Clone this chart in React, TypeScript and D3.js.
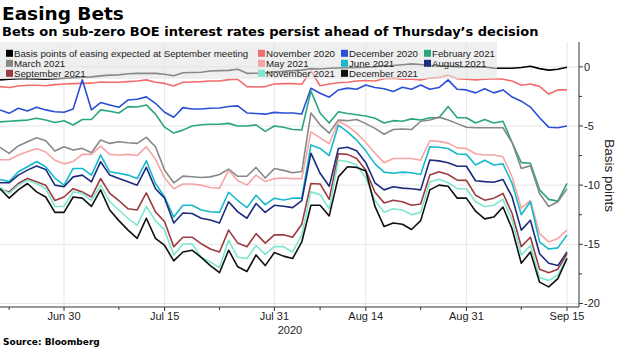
import React from "react";
import * as d3 from "d3";

// Business days shown on the x axis
const dates: string[] = [
  "2020-06-19", "2020-06-22", "2020-06-23", "2020-06-24", "2020-06-25", "2020-06-26", "2020-06-29", "2020-06-30",
  "2020-07-01", "2020-07-02", "2020-07-03", "2020-07-06", "2020-07-07", "2020-07-08", "2020-07-09", "2020-07-10",
  "2020-07-13", "2020-07-14", "2020-07-15", "2020-07-16", "2020-07-17", "2020-07-20", "2020-07-21", "2020-07-22",
  "2020-07-23", "2020-07-24", "2020-07-27", "2020-07-28", "2020-07-29", "2020-07-30", "2020-07-31",
  "2020-08-03", "2020-08-04", "2020-08-05", "2020-08-06", "2020-08-07", "2020-08-10", "2020-08-11", "2020-08-12",
  "2020-08-13", "2020-08-14", "2020-08-17", "2020-08-18", "2020-08-19", "2020-08-20", "2020-08-21", "2020-08-24",
  "2020-08-25", "2020-08-26", "2020-08-27", "2020-08-28", "2020-08-31",
  "2020-09-01", "2020-09-02", "2020-09-03", "2020-09-04", "2020-09-07", "2020-09-08", "2020-09-09", "2020-09-10",
  "2020-09-11", "2020-09-14", "2020-09-15",
];

const majorTicks = ["2020-06-30", "2020-07-15", "2020-07-31", "2020-08-14", "2020-08-31", "2020-09-15"];
const majorTickLabels = ["Jun 30", "Jul 15", "Jul 31", "Aug 14", "Aug 31", "Sep 15"];
const minorTicks = ["2020-06-22", "2020-07-08", "2020-07-23", "2020-08-07", "2020-08-24", "2020-09-08"];
const yMajorTicks = [0, -5, -10, -15, -20];
const yMinorTicks = [-2.5, -7.5, -12.5, -17.5];

const seriesNames = [
  "Basis points of easing expected at September meeting",
  "November 2020", "December 2020", "February 2021",
  "March 2021", "May 2021", "June 2021", "August 2021",
  "September 2021", "November 2021", "December 2021",
];

const sepMeeting = [-1.10,-1.05,-1.00,-1.00,-1.02,-1.05,-1.00,-0.96,-0.92,-0.88,-0.85,-0.76,-0.70,-0.68,-0.58,-0.55,-0.54,-0.55,-0.62,-0.76,-0.50,-0.48,-0.46,-0.35,-0.32,-0.30,-0.20,-0.55,-0.54,-0.52,-0.42,-0.38,-0.32,-0.28,-0.15,-0.18,-0.12,-0.10,-0.08,-0.05,-0.03,0.02,0.08,0.12,0.18,0.25,0.20,0.12,0.08,0.05,0.02,0.00,0.00,-0.02,-0.11,-0.12,-0.12,-0.05,0.05,-0.15,-0.28,-0.20,-0.03];
const nov2020 = [-1.67,-1.75,-1.62,-1.55,-1.55,-1.6,-1.5,-1.45,-1.42,-1.4,-1.38,-1.28,-1.3,-1.3,-1.25,-1.2,-1.1,-1.3,-1.4,-1.62,-1.3,-1.28,-1.25,-1.2,-1.2,-1.08,-1.05,-1.67,-1.7,-1.67,-1.45,-1.42,-1.42,-1.47,-0.35,-1.6,-1.45,-1.35,-1.3,-1.2,-1.15,-1.2,-1.0,-0.95,-1.05,-1.05,-1.1,-0.95,-0.9,-0.7,-1.0,-1.05,-1.1,-1.05,-1.0,-1.05,-1.2,-1.55,-1.45,-1.65,-2.3,-1.95,-1.95];
const dec2020 = [-3.64,-3.93,-3.50,-3.73,-3.42,-3.64,-3.79,-3.84,-3.56,-1.10,-3.64,-3.02,-3.22,-3.42,-2.80,-2.74,-2.54,-3.08,-3.84,-4.26,-3.45,-3.56,-3.56,-3.5,-3.48,-3.35,-3.3,-3.9,-3.95,-4.0,-3.85,-3.9,-3.9,-3.98,-1.81,-2.23,-2.57,-1.95,-1.8,-1.9,-1.53,-1.75,-1.85,-2.09,-1.72,-1.9,-1.53,-1.9,-1.75,-1.1,-1.9,-1.95,-2.2,-1.85,-2.2,-1.95,-2.55,-2.9,-3.4,-4.3,-5.1,-5.15,-5.0];
const feb2021 = [-4.65,-4.6,-4.55,-4.5,-4.35,-4.5,-4.7,-4.55,-4.92,-4.45,-4.45,-3.64,-3.75,-3.9,-3.36,-3.4,-3.22,-4.0,-5.1,-5.6,-5.35,-5.0,-4.9,-4.85,-4.85,-4.78,-5.0,-5.0,-4.9,-5.45,-5.0,-5.1,-5.3,-5.34,-2.05,-3.9,-4.75,-3.8,-3.95,-4.05,-4.15,-4.35,-4.75,-4.55,-4.6,-4.4,-4.5,-4.3,-4.3,-3.36,-4.3,-4.3,-4.75,-4.45,-4.75,-4.6,-6.4,-8.1,-8.15,-10.4,-11.2,-11.35,-9.85];
const mar2021 = [-6.81,-7.32,-6.69,-6.33,-5.99,-6.24,-7.12,-6.75,-7.03,-6.89,-7.26,-6.19,-6.47,-6.33,-6.41,-6.47,-5.96,-6.75,-8.73,-9.8,-9.24,-9.29,-9.35,-9.3,-9.1,-8.65,-9.25,-9.25,-8.5,-9.4,-8.6,-8.75,-8.95,-8.85,-3.9,-4.9,-5.6,-4.5,-4.55,-4.45,-4.8,-5.2,-5.7,-5.3,-5.25,-5.3,-4.6,-4.5,-4.25,-4.5,-4.8,-5.1,-5.15,-5.15,-5.15,-5.15,-6.4,-8.6,-8.35,-10.7,-11.8,-11.4,-10.3];
const may2021 = [-7.85,-7.85,-7.45,-7.18,-6.9,-7.2,-7.9,-8.2,-8.0,-7.4,-7.4,-6.7,-7.4,-7.45,-7.4,-7.5,-6.75,-7.8,-9.4,-10.3,-9.9,-9.9,-10.0,-10.2,-10.25,-8.75,-9.6,-10.0,-9.15,-9.7,-9.45,-9.4,-9.45,-9.45,-5.5,-6.0,-6.5,-4.6,-5.0,-5.6,-6.4,-7.3,-8.1,-7.75,-7.75,-7.75,-7.9,-6.25,-6.3,-6.45,-6.85,-6.9,-7.35,-7.45,-7.45,-7.6,-9.3,-11.95,-11.3,-14.1,-14.8,-14.5,-13.8];
const jun2021 = [-9.52,-9.7,-8.87,-8.45,-8.0,-8.45,-9.4,-10.0,-8.59,-8.59,-9.15,-7.46,-8.87,-9.0,-9.15,-9.44,-7.94,-9.86,-11.0,-12.7,-11.7,-11.7,-12.1,-12.25,-12.3,-10.6,-11.3,-11.9,-10.85,-11.65,-11.1,-11.25,-11.1,-11.1,-6.6,-6.9,-7.5,-4.92,-5.5,-6.2,-7.1,-8.2,-8.9,-9.0,-8.9,-8.95,-9.1,-6.75,-6.8,-6.9,-7.37,-7.4,-8.3,-7.9,-8.3,-8.2,-9.86,-12.5,-11.4,-14.8,-15.4,-15.3,-14.2];
const aug2021 = [-9.8,-9.8,-9.15,-8.73,-8.39,-8.67,-10.0,-10.14,-9.3,-9.15,-9.72,-8.02,-9.15,-9.44,-9.72,-10.0,-8.5,-10.3,-11.1,-13.2,-12.35,-12.4,-12.8,-12.95,-13.2,-11.4,-12.26,-12.8,-11.55,-12.3,-11.7,-11.78,-11.9,-11.3,-7.3,-9.0,-10.1,-6.9,-6.8,-7.1,-8.1,-9.8,-10.4,-10.14,-10.25,-10.3,-10.4,-7.88,-7.95,-8.1,-8.4,-8.4,-9.63,-9.7,-9.75,-9.52,-11.0,-13.8,-12.97,-15.8,-16.6,-16.8,-15.65];
const sep2021 = [-10.3,-10.57,-9.86,-9.44,-9.72,-10.0,-11.3,-11.0,-10.3,-10.57,-11.0,-9.44,-10.7,-11.3,-12.0,-12.1,-10.65,-12.26,-13.1,-15.2,-14.4,-14.4,-14.95,-15.4,-15.65,-13.8,-14.9,-15.2,-14.1,-14.9,-14.2,-14.2,-14.4,-13.3,-9.86,-9.9,-11.2,-7.35,-7.4,-7.75,-8.75,-10.6,-11.5,-11.27,-11.4,-11.7,-11.6,-9.15,-8.87,-9.1,-9.58,-9.6,-10.85,-11.27,-11.1,-10.7,-12.4,-15.2,-14.4,-17.1,-17.4,-17.1,-15.8];
const nov2021 = [-10.2,-10.7,-10.0,-9.58,-9.86,-10.3,-11.8,-11.78,-10.57,-10.7,-11.3,-10.0,-11.4,-12.1,-12.8,-13.4,-11.8,-13.0,-13.8,-15.9,-15.0,-14.95,-16.1,-16.5,-16.97,-14.66,-16.1,-16.2,-15.1,-15.85,-15.2,-15.2,-15.65,-14.2,-10.57,-10.8,-12.0,-7.9,-8.0,-8.3,-9.4,-11.3,-12.3,-12.0,-12.1,-12.5,-12.3,-9.72,-9.5,-9.8,-10.3,-10.3,-11.4,-11.8,-11.7,-11.2,-12.97,-15.9,-15.1,-17.8,-18.05,-17.6,-16.1];
const dec2021 = [-10.3,-11.1,-10.4,-9.86,-10.57,-11.0,-12.3,-12.3,-11.0,-11.1,-11.8,-10.4,-12.1,-13.0,-13.8,-14.5,-12.8,-14.5,-15.1,-16.4,-15.65,-15.5,-16.1,-16.8,-17.4,-15.5,-16.9,-17.3,-15.9,-16.8,-15.7,-16.0,-16.2,-14.8,-11.7,-11.7,-12.6,-9.3,-8.45,-8.5,-8.8,-11.8,-13.5,-13.2,-13.3,-13.75,-13.0,-10.4,-10.0,-10.1,-11.1,-11.1,-12.2,-12.85,-12.7,-11.85,-13.7,-16.6,-15.65,-18.2,-18.6,-17.9,-16.2];

const seriesValues = [sepMeeting, nov2020, dec2020, feb2021, mar2021, may2021, jun2021, aug2021, sep2021, nov2021, dec2021];

const colors = [
  "#000000", "#f26d6b", "#2a4fd6", "#2aa67c",
  "#888888", "#f5a6a4", "#17b9cb", "#1b2c7e",
  "#9a3b40", "#7fe7cf", "#111111",
];

const FONT = "'Liberation Sans', Arial, sans-serif";
const HEAVY = "'DejaVu Sans', Verdana, sans-serif";

export default function App() {
  const plotRight = 579;
  const plotTop = 42;
  const plotBottom = 307;

  const x = d3.scalePoint<string>().domain(dates).range([0, 567]);
  const y = d3.scaleLinear().domain([-20.3, 2.1]).range([plotBottom, plotTop]);

  const line = d3
    .line<number>()
    .x((_, i) => x(dates[i]) as number)
    .y((d) => y(d));

  const legendCols = [6, 258, 341, 424];
  const legendRows = [53.3, 63.3, 73.3];

  return (
    <div style={{ position: "absolute", left: 0, top: 0 }}>
      <svg width={620} height={348} style={{ display: "block", background: "#fff" }}>
        {/* Titles */}
        <text x={2} y={20} fontFamily={HEAVY} fontWeight="bold" fontSize={18.5} fill="#000">
          Easing Bets
        </text>
        <text x={2} y={36} fontFamily={HEAVY} fontWeight="bold" fontSize={13} fill="#000">
          Bets on sub-zero BOE interest rates persist ahead of Thursday’s decision
        </text>

        {/* Gridlines */}
        {yMajorTicks.map((t) => (
          <line key={"gy" + t} x1={0} x2={plotRight} y1={y(t)} y2={y(t)} stroke="#e6e6e6" strokeWidth={1} />
        ))}
        {majorTicks.map((d) => (
          <line key={"gx" + d} x1={x(d)} x2={x(d)} y1={plotTop} y2={plotBottom} stroke="#e6e6e6" strokeWidth={1} />
        ))}

        {/* Series lines */}
        {seriesValues.map((vals, k) => (
          <path
            key={"s" + k}
            d={line(vals) || ""}
            fill="none"
            stroke={colors[k]}
            strokeWidth={1.6}
            strokeLinejoin="round"
          />
        ))}

        {/* Legend */}
        <rect x={0} y={plotTop} width={497} height={37} fill="#e4e4e4" opacity={0.6} />
        {seriesNames.map((name, k) => {
          const col = k < 4 ? k : k < 8 ? k - 4 : k - 8;
          const row = k < 4 ? 0 : k < 8 ? 1 : 2;
          const lx = legendCols[col];
          const ly = legendRows[row];
          return (
            <g key={"l" + k}>
              <rect x={lx} y={ly - 3.5} width={7} height={7} fill={colors[k]} />
              <text x={lx + 8} y={ly + 3.5} fontFamily={FONT} fontSize={9.7} fill="#222">
                {name}
              </text>
            </g>
          );
        })}

        {/* X axis */}
        <line x1={0} x2={plotRight} y1={plotBottom} y2={plotBottom} stroke="#333" strokeWidth={1} />
        {majorTicks.map((d, i) => (
          <g key={"xt" + d}>
            <line x1={x(d)} x2={x(d)} y1={plotBottom} y2={plotBottom + 4} stroke="#333" strokeWidth={1} />
            <text x={x(d)} y={320} textAnchor="middle" fontFamily={FONT} fontSize={11} fill="#222">
              {majorTickLabels[i]}
            </text>
          </g>
        ))}
        {minorTicks.map((d) => (
          <line key={"xm" + d} x1={x(d)} x2={x(d)} y1={plotBottom} y2={plotBottom + 3} stroke="#333" strokeWidth={1} />
        ))}
        <text x={290} y={334} textAnchor="middle" fontFamily={FONT} fontSize={11} fill="#222">
          2020
        </text>

        {/* Y axis */}
        <line x1={plotRight} x2={plotRight} y1={plotTop} y2={plotBottom} stroke="#333" strokeWidth={1} />
        {yMajorTicks.map((t) => (
          <g key={"yt" + t}>
            <line x1={plotRight} x2={plotRight + 4} y1={y(t)} y2={y(t)} stroke="#333" strokeWidth={1} />
            <text x={plotRight + 5} y={y(t) + 4} fontFamily={FONT} fontSize={11} fill="#222">
              {String(t)}
            </text>
          </g>
        ))}
        {yMinorTicks.map((t) => (
          <line key={"ym" + t} x1={plotRight} x2={plotRight + 3} y1={y(t)} y2={y(t)} stroke="#333" strokeWidth={1} />
        ))}
        <text
          transform={`translate(605, ${y(-9.2)}) rotate(90)`}
          textAnchor="middle"
          fontFamily={FONT}
          fontSize={13.5}
          fill="#222"
        >
          Basis points
        </text>

        {/* Source */}
        <text x={3} y={345} fontFamily={HEAVY} fontWeight="bold" fontSize={9} fill="#000">
          Source: Bloomberg
        </text>
      </svg>
    </div>
  );
}
